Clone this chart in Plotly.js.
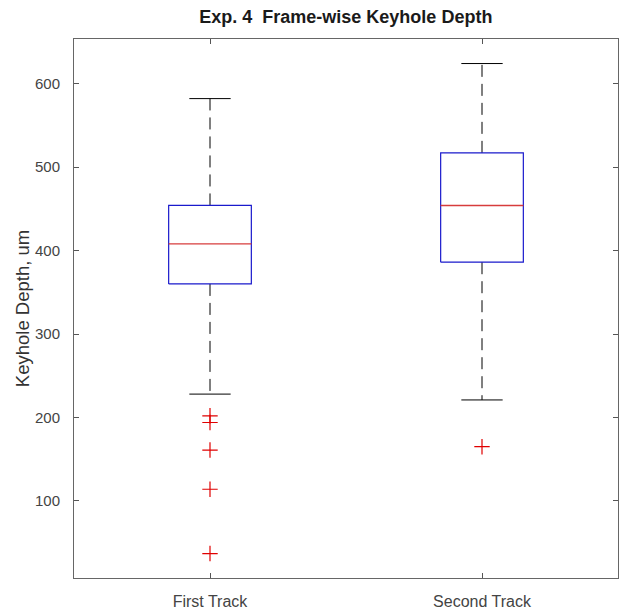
<!DOCTYPE html>
<html>
<head>
<meta charset="utf-8">
<script src="https://cdn.plot.ly/plotly-3.0.1.min.js"></script>
<style>html,body{margin:0;padding:0;background:#fff;}#chart{width:619px;height:614px;}</style>
</head>
<body>
<div id="chart"></div>
<script>
// ---- data ----
var categories = ['First Track', 'Second Track'];
var q1Values = [360, 386];
var medianValues = [408, 454];
var q3Values = [454, 517];
var lowerWhiskers = [228, 221];
var upperWhiskers = [582, 624];
var outliersFirst = [202, 194, 161, 114, 37];
var outliersSecond = [165];
var yTickVals = [100, 200, 300, 400, 500, 600];

// ---- styles ----
var boxHalf = 0.152, capHalf = 0.076;
var traces = [];
var outlierSets = [outliersFirst, outliersSecond];
categories.forEach(function (c, i) {
  var p = i + 1;
  traces.push({type: 'scatter', mode: 'lines', x: [p, p], y: [q3Values[i], upperWhiskers[i]],
    line: {color: '#000', width: 1, dash: '12px,7px'}, hoverinfo: 'skip', showlegend: false});
  traces.push({type: 'scatter', mode: 'lines', x: [p, p], y: [q1Values[i], lowerWhiskers[i]],
    line: {color: '#000', width: 1, dash: '12px,7px'}, hoverinfo: 'skip', showlegend: false});
  traces.push({type: 'scatter', mode: 'lines', x: [p - capHalf, p + capHalf], y: [upperWhiskers[i], upperWhiskers[i]],
    line: {color: '#000', width: 1}, hoverinfo: 'skip', showlegend: false});
  traces.push({type: 'scatter', mode: 'lines', x: [p - capHalf, p + capHalf], y: [lowerWhiskers[i], lowerWhiskers[i]],
    line: {color: '#000', width: 1}, hoverinfo: 'skip', showlegend: false});
  traces.push({type: 'scatter', mode: 'lines',
    x: [p - boxHalf, p + boxHalf, p + boxHalf, p - boxHalf, p - boxHalf],
    y: [q1Values[i], q1Values[i], q3Values[i], q3Values[i], q1Values[i]],
    line: {color: '#1a1acc', width: 1.2}, hoverinfo: 'skip', showlegend: false});
  traces.push({type: 'scatter', mode: 'lines', x: [p - boxHalf, p + boxHalf], y: [medianValues[i], medianValues[i]],
    line: {color: 'rgb(215,60,60)', width: 1.4}, hoverinfo: 'skip', showlegend: false});
  traces.push({type: 'scatter', mode: 'markers',
    x: outlierSets[i].map(function () { return p; }), y: outlierSets[i],
    marker: {symbol: 'cross-thin', size: 11, line: {color: '#e00000', width: 1.2}},
    hoverinfo: 'skip', showlegend: false});
});

var layout = {
  width: 619, height: 614,
  margin: {l: 74, r: 1, t: 39, b: 36},
  paper_bgcolor: '#fff', plot_bgcolor: '#fff',
  font: {family: 'Liberation Sans, Arial, sans-serif', color: '#404040'},
  title: {text: '<b>Exp. 4  Frame-wise Keyhole Depth</b>', x: 0.5587, xanchor: 'center', y: 0.972, yanchor: 'middle',
    font: {family: 'Liberation Sans, Arial, sans-serif', size: 18, color: '#1a1a1a'}},
  xaxis: {
    range: [0.5, 2.5], tickmode: 'array', tickvals: [1, 2], ticktext: categories,
    ticks: 'inside', ticklen: 5, tickcolor: '#555', mirror: 'ticks', showline: true, linecolor: '#666', linewidth: 1,
    showgrid: false, zeroline: false, tickfont: {size: 16, color: '#444'},
    ticklabelstandoff: 9
  },
  yaxis: {
    range: [7.7, 653.4], tickmode: 'array', tickvals: yTickVals,
    ticks: 'inside', ticklen: 5, tickcolor: '#555', mirror: 'ticks', showline: true, linecolor: '#666', linewidth: 1,
    showgrid: false, zeroline: false, tickfont: {size: 15, color: '#444'},
    ticklabelstandoff: 10,
    title: {text: 'Keyhole Depth, um', font: {size: 18.5, color: '#333'}, standoff: 0}
  }
};
Plotly.newPlot('chart', traces, layout, {displayModeBar: false, staticPlot: true});
</script>
</body>
</html>
